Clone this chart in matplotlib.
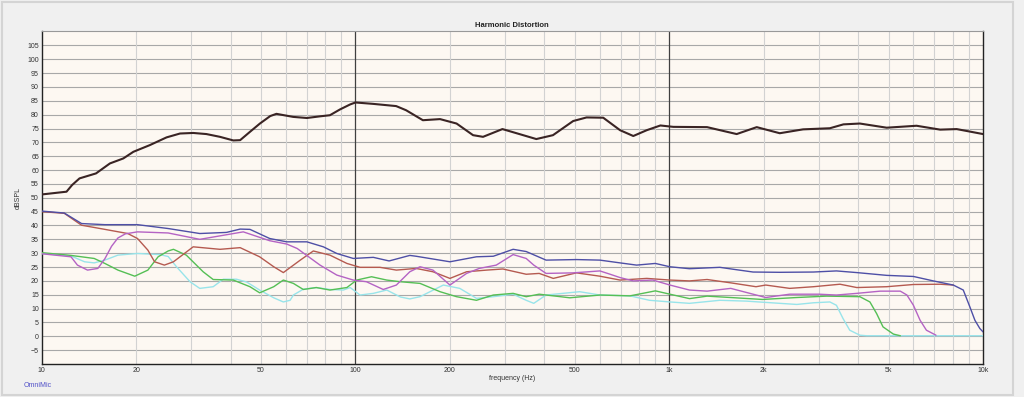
## Harmonic distortion plot (OmniMic style)

## -----------------------
## Load libraries
import numpy as np
import matplotlib.pyplot as plt
from matplotlib.patches import Rectangle

## -----------------------
## Data (freq in Hz, level in dBSPL)
fund_f = [10, 12, 12.5, 13.2, 14.9, 16.5, 18.2, 19.6, 22.1, 25, 27.6, 30.4, 33.5, 37, 40.8, 42.9,
          46.1, 49.6, 53.5, 56, 63.3, 70, 77.1, 82.9, 89.3, 96.2, 100, 113.8, 134.8, 145, 164, 186,
          210, 237, 255, 294, 333, 377, 426, 494, 545, 616, 697, 768, 848, 937, 1030, 1320, 1490,
          1640, 1900, 2250, 2670, 3250, 3590, 4050, 4930, 6140, 7300, 8240, 10000]
fund_db = [51.2, 52.2, 54.6, 57.0, 58.8, 62.4, 64.2, 66.6, 69.0, 71.8, 73.2, 73.4, 73.0, 72.0, 70.7, 70.8,
           73.8, 76.8, 79.5, 80.3, 79.2, 78.8, 79.4, 79.8, 81.9, 83.7, 84.4, 83.9, 83.1, 81.6, 78.0, 78.4,
           76.8, 72.6, 72.0, 74.8, 73.0, 71.2, 72.6, 77.7, 79.0, 78.9, 74.4, 72.3, 74.4, 76.1, 75.6, 75.5, 74.1,
           73.0, 75.5, 73.3, 74.7, 75.1, 76.5, 76.8, 75.3, 76.0, 74.6, 74.8, 73.0]

blue_f = [10, 11.8, 13.4, 15.9, 20.2, 25.3, 31.9, 38.8, 42.9, 46.1, 53.3, 60.4, 70, 79, 87.2, 98.4,
          114, 128, 149, 156, 200, 243, 275, 318, 350, 405, 506, 601, 697, 787, 903, 1005, 1160,
          1450, 1600, 1850, 2250, 2880, 3410, 3960, 4930, 6000, 6940, 8040, 8650, 9080, 9420, 9770, 10000]
blue_db = [45.2, 44.5, 40.7, 40.3, 40.3, 38.9, 37.1, 37.5, 38.7, 38.6, 35.3, 34.1, 34.1, 32.3, 29.9, 28.1,
           28.5, 27.2, 29.2, 28.9, 26.9, 28.7, 28.9, 31.4, 30.6, 27.5, 27.7, 27.5, 26.5, 25.7, 26.3, 25.1, 24.4,
           24.9, 24.2, 23.2, 23.1, 23.2, 23.6, 23.0, 22.0, 21.6, 20.0, 18.5, 16.7, 10.6, 5.8, 2.8, 1.6]

purple_f = [10, 12.4, 13.0, 14.0, 15.1, 15.9, 16.7, 17.5, 18.5, 20.2, 25.3, 31.9, 43.9, 53.3, 60.4, 65.2,
            77.1, 87.2, 98.4, 108.4, 122.6, 135, 149, 160.6, 176.6, 200, 226, 248, 281, 318, 350, 370,
            405, 494, 601, 648, 697, 768, 887, 1005, 1160, 1320, 1570, 1850, 2030, 2420, 3000, 3410,
            3960, 4700, 5450, 5720, 6000, 6300, 6600, 7080]
purple_db = [29.8, 28.7, 25.7, 23.9, 24.5, 28.0, 32.5, 35.5, 37.0, 37.7, 37.3, 35.0, 37.7, 34.5, 33.3, 31.7,
             25.7, 22.1, 20.3, 19.7, 16.9, 18.5, 23.3, 25.1, 23.9, 18.5, 22.7, 24.5, 25.7, 29.5, 28.1, 25.7,
             22.7, 22.9, 23.6, 22.4, 21.2, 20.0, 20.3, 18.5, 16.7, 16.3, 17.3, 15.2, 14.0, 15.2, 15.2, 14.9,
             15.5, 16.3, 16.3, 14.9, 11.2, 5.8, 2.2, 0.4]

red_f = [10, 11.8, 13.4, 15.9, 18.8, 20.2, 21.8, 22.9, 24.6, 26.3, 30.4, 37, 42.9, 49.5, 54.9, 58.9,
         66.7, 73.4, 82.9, 93.9, 103.4, 119.7, 135, 156, 176.6, 200, 226, 262, 295, 350, 385, 427,
         506, 601, 697, 848, 1005, 1160, 1320, 1570, 1890, 2030, 2420, 2880, 3500, 3960, 4930, 6000,
         7300, 8040]
red_db = [45.0, 44.4, 40.1, 38.6, 37.1, 35.3, 31.1, 26.9, 25.7, 26.9, 32.3, 31.4, 32.0, 28.7, 25.1, 23.0,
          27.5, 30.8, 29.3, 26.3, 24.9, 24.9, 23.9, 24.5, 23.3, 20.9, 23.3, 23.9, 24.3, 22.4, 22.7, 20.9,
          22.9, 21.7, 20.3, 20.9, 20.3, 20.0, 20.5, 19.3, 17.9, 18.5, 17.3, 17.9, 18.8, 17.6, 17.9, 18.7,
          18.8, 18.5]

green_f = [10, 12.4, 14.7, 15.9, 17.5, 19.8, 21.8, 23.5, 25.3, 26.3, 28.9, 32.7, 35.2, 40.8, 46.1, 49.5,
           54.9, 58.9, 63.4, 68.2, 75, 82.9, 93.9, 100.9, 112.5, 125.8, 139, 160.6, 186, 210, 243, 275,
           318, 350, 385, 482, 601, 750, 903, 1005, 1160, 1320, 1570, 1980, 2550, 3170, 4050, 4360,
           4580, 4800, 5180, 5450]
green_db = [30.2, 29.2, 28.1, 26.3, 23.9, 21.7, 23.9, 28.7, 30.8, 31.4, 29.3, 23.3, 20.5, 20.3, 17.9, 15.7,
            17.9, 20.3, 19.1, 16.9, 17.6, 16.7, 17.6, 20.3, 21.5, 20.3, 19.7, 19.1, 16.1, 14.3, 13.0, 14.9,
            15.5, 14.3, 15.2, 13.9, 14.9, 14.6, 16.4, 15.2, 13.6, 14.5, 14.0, 13.3, 14.0, 14.5, 14.3, 12.4,
            8.2, 3.4, 0.8, 0.2]

cyan_f = [10, 12.4, 13.7, 14.7, 15.9, 17.5, 20.2, 23.8, 25.3, 26.9, 29.7, 31.9, 35.2, 37.9, 41.8, 45,
          49.5, 54.9, 58.9, 61.9, 63.4, 68.2, 75, 82.9, 91.5, 96.2, 103.4, 114, 125.8, 139, 149, 160.6,
          190.6, 215, 243, 275, 318, 350, 370, 405, 518, 601, 750, 865, 1005, 1160, 1450, 1760, 2250,
          2550, 2880, 3250, 3410, 3580, 3760, 4050, 4260, 10000]
cyan_db = [29.9, 29.0, 26.9, 26.5, 27.5, 29.3, 29.9, 29.5, 28.8, 25.1, 19.7, 17.3, 17.9, 20.6, 20.6, 19.6,
           16.7, 13.9, 12.4, 13.0, 14.9, 17.0, 17.6, 16.9, 16.7, 17.6, 14.9, 15.5, 16.7, 14.2, 13.5, 14.3,
           18.5, 17.3, 13.7, 14.3, 15.2, 13.0, 11.9, 14.9, 16.1, 14.9, 14.6, 13.0, 12.4, 11.9, 13.0, 12.7, 11.9,
           11.5, 12.1, 12.4, 11.2, 6.4, 2.2, 0.4, 0.2, 0.2]

xtick_vals = [10, 20, 50, 100, 200, 500, 1000, 2000, 5000, 10000]
xtick_labels = ['10', '20', '50', '100', '200', '500', '1k', '2k', '5k', '10k']
ytick_vals = list(range(-5, 110, 5))

## -----------------------
## Figure setup
plt.rcParams['font.family'] = ['Liberation Sans', 'DejaVu Sans']
fig = plt.figure(figsize=(10.24, 3.97), dpi=100, facecolor='#f0f0f0')
fig.patches.append(Rectangle((0.002, 0.004), 0.987, 0.99, transform=fig.transFigure,
                             fill=False, edgecolor='#d4d4d4', linewidth=1.5))
ax = fig.add_axes([0.0407, 0.0831, 0.9193, 0.8388])
ax.set_facecolor('#fdf8f2')
ax.set_xscale('log')
ax.set_xlim(10, 10000)
ax.set_ylim(-10, 110.2)

## Grid: horizontal every 5 dB, light verticals at 2..9, dark decades
for yv in ytick_vals:
    ax.axhline(yv, color='#a8a8a8', linewidth=0.8, zorder=1)
for dec in [10, 100, 1000]:
    for m in range(2, 10):
        ax.axvline(dec * m, color='#d2d2d2', linewidth=0.8, zorder=1)
for dec in [100, 1000]:
    ax.axvline(dec, color='#404040', linewidth=0.9, zorder=1)

## -----------------------
## Curves
line_kw = dict(linewidth=1.0, zorder=3, solid_joinstyle='round', solid_capstyle='round')
ax.plot(cyan_f, cyan_db, color='#98e4ea', **line_kw)
ax.plot(green_f, green_db, color='#55bf55', **line_kw)
ax.plot(red_f, red_db, color='#b55a50', **line_kw)
ax.plot(purple_f, purple_db, color='#b463c4', **line_kw)
ax.plot(blue_f, blue_db, color='#4e4fa6', **line_kw)
ax.plot(fund_f, fund_db, color='#3a2424', linewidth=1.5, zorder=4, solid_joinstyle='round')

## -----------------------
## Axes / labels
ax.set_xticks(xtick_vals)
ax.set_xticklabels(xtick_labels)
ax.xaxis.set_minor_locator(plt.NullLocator())
ax.set_yticks(ytick_vals)
ax.tick_params(axis='both', length=0, labelsize=5, colors='#333333', pad=2)
for side in ['left', 'bottom', 'right']:
    ax.spines[side].set_color('#222222')
    ax.spines[side].set_linewidth(1.0)
ax.spines['top'].set_color('#999999')
ax.spines['top'].set_linewidth(0.8)

ax.set_title('Harmonic Distortion', fontsize=5.5, fontweight='bold', color='#222222', pad=3)
ax.set_xlabel('frequency (Hz)', fontsize=5, color='#333333', labelpad=1)
ax.set_ylabel('dBSPL', fontsize=5, color='#333333', labelpad=4)
fig.text(0.0235, 0.03, 'OmniMic', fontsize=5, color='#5050c8', ha='left', va='center')

fig.savefig('out.png', dpi=100, facecolor=fig.get_facecolor())
